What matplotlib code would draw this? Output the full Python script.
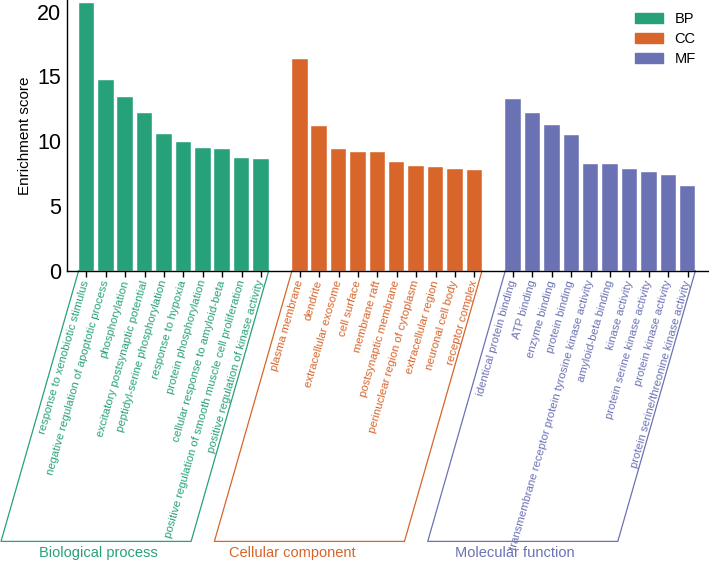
import numpy as np
import matplotlib
matplotlib.use("Agg")
import matplotlib.pyplot as plt
from matplotlib.transforms import blended_transform_factory
from matplotlib.patches import Patch

# GO-Begriffe und Enrichment scores
bp_terms = ["response to xenobiotic stimulus",
            "negative regulation of apoptotic process",
            "phosphorylation",
            "excitatory postsynaptic potential",
            "peptidyl-serine phosphorylation",
            "response to hypoxia",
            "protein phosphorylation",
            "cellular response to amyloid-beta",
            "positive regulation of smooth muscle cell proliferation",
            "positive regulation of kinase activity"]
bp_scores = [20.7, 14.7, 13.4, 12.15, 10.55, 9.9, 9.45, 9.37, 8.7, 8.65]

cc_terms = ["plasma membrane", "dendrite", "extracellular exosome", "cell surface",
            "membrane raft", "postsynaptic membrane", "perinuclear region of cytoplasm",
            "extracellular region", "neuronal cell body", "receptor complex"]
cc_scores = [16.35, 11.15, 9.4, 9.2, 9.2, 8.37, 8.08, 8.0, 7.88, 7.8]

mf_terms = ["identical protein binding", "ATP binding", "enzyme binding", "protein binding",
            "transmembrane receptor protein tyrosine kinase activity", "amyloid-beta binding",
            "kinase activity", "protein serine kinase activity", "protein kinase activity",
            "protein serine/threonine kinase activity"]
mf_scores = [13.28, 12.15, 11.23, 10.46, 8.22, 8.22, 7.85, 7.62, 7.37, 6.54]

groups = ["BP", "CC", "MF"]
group_names = ["Biological process", "Cellular component", "Molecular function"]
colors = ["#27a17a", "#d8652a", "#6b72b4"]

terms_all = [bp_terms, cc_terms, mf_terms]
scores_all = [bp_scores, cc_scores, mf_scores]

W, H = 709, 562
fig = plt.figure(figsize=(W / 100, H / 100), dpi=100)
plt.rcParams['font.family'] = ['Liberation Sans', 'DejaVu Sans']

ax_h = 270.7
ax = fig.add_axes([67 / W, 1 - ax_h / H, 1 - 67 / W, ax_h / H])

angle = 74
bar_w = 0.8
# x-Positionen: eine Luecke zwischen den Gruppen
positions = []
start = 0
for s in scores_all:
    positions.append(np.arange(start, start + len(s)))
    start += len(s) + 1

for pos, s, c, g in zip(positions, scores_all, colors, groups):
    ax.bar(pos, s, width=bar_w, color=c, label=g, edgecolor="white", linewidth=0.3)

ax.set_xlim(-1.0, 32.1)
ax.set_ylim(0, 20.9)
ax.set_yticks([0, 5, 10, 15, 20])
ax.tick_params(axis="y", length=0, labelsize=15.5, pad=4)
ax.set_ylabel("Enrichment score", fontsize=11, labelpad=4)

all_pos = np.concatenate(positions)
all_terms = sum(terms_all, [])
ax.set_xticks(all_pos)
ax.set_xticklabels(all_terms, rotation=angle, ha="right", va="center",
                   rotation_mode="anchor", fontsize=8.2)
ax.tick_params(axis="x", length=4, width=1, direction="out", pad=3)
i = 0
for terms, c in zip(terms_all, colors):
    for _ in terms:
        ax.get_xticklabels()[i].set_color(c)
        i += 1

for sp in ["top", "right"]:
    ax.spines[sp].set_visible(False)
ax.spines["left"].set_linewidth(1)
ax.spines["bottom"].set_linewidth(1)

# Parallelogramme unter den Gruppen
px_per_unit = (W - 67) / (32.1 + 1.0)
y_bot = -1.0
shift = (abs(y_bot) * ax_h) / np.tan(np.radians(angle)) / px_per_unit
trans = blended_transform_factory(ax.transData, ax.transAxes)
label_x = [0.6, 10.6, 22.1]
for pos, c, name, lx in zip(positions, colors, group_names, label_x):
    xl = pos[0] - bar_w / 2
    xr = pos[-1] + bar_w / 2
    ax.plot([xl, xl - shift, xr - shift, xr], [0, y_bot, y_bot, 0], color=c,
            lw=0.9, transform=trans, clip_on=False)
    ax.text(lx, -1.043, name, color=c, fontsize=10.5, ha="center", va="center",
            transform=trans)

handles = [Patch(color=c, label=g) for c, g in zip(colors, groups)]
fig.legend(handles=handles, loc="upper left", bbox_to_anchor=(635 / W, 1 - 12 / H),
           frameon=False, fontsize=10.5, handlelength=1.9, handleheight=0.65,
           handletextpad=0.8, labelspacing=0.42, borderpad=0, borderaxespad=0)

fig.savefig("out.png", dpi=100)
